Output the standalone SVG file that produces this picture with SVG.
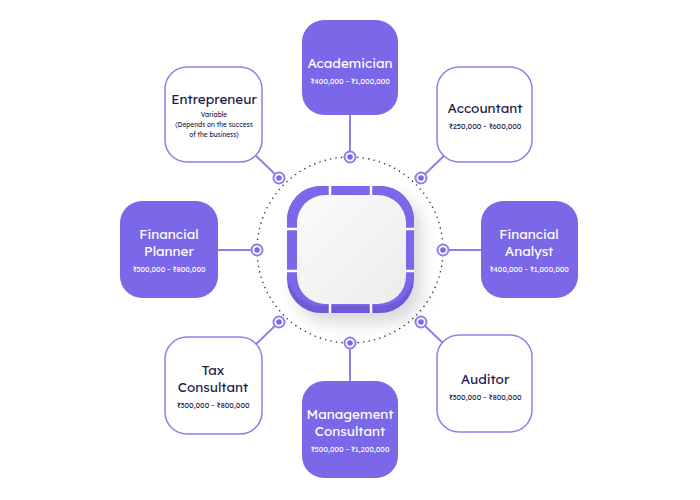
<svg xmlns="http://www.w3.org/2000/svg" width="700" height="500" viewBox="0 0 700 500">
<style>
.f{fill:#7a68e8}
.o{fill:#fff;stroke:#8d80e6;stroke-width:1.5}
.t{font-family:"Lexend","Noto Sans",sans-serif;text-anchor:middle}
.tw{fill:#fff}
.td{fill:#1e1a4a}
.h{font-size:13.5px}
.s{font-size:7.5px}
.ln{stroke:#8d80e6;stroke-width:2}
.dot{fill:#fff;stroke:#8d80e6;stroke-width:2}
.di{fill:#7a68e8}
</style>
<defs>
<filter id="sh" x="-30%" y="-30%" width="170%" height="170%"><feDropShadow dx="8" dy="10" stdDeviation="8" flood-color="#000" flood-opacity="0.15"/></filter>
<linearGradient id="g" x1="0" y1="0" x2="1" y2="1"><stop offset="0" stop-color="#fbfbfb"/><stop offset="1" stop-color="#ececec"/></linearGradient>
</defs>
<g id="connectors">
<circle cx="350" cy="250" r="93" fill="none" stroke="#333" stroke-width="1.6" stroke-dasharray="0 5.5" stroke-linecap="round"/>
<line class="ln" x1="350" y1="115" x2="350" y2="157"/>
<line class="ln" x1="421" y1="178" x2="450" y2="150"/>
<line class="ln" x1="443" y1="250" x2="481" y2="250"/>
<line class="ln" x1="421" y1="322" x2="450" y2="350"/>
<line class="ln" x1="350" y1="343" x2="350" y2="381"/>
<line class="ln" x1="279" y1="322" x2="250" y2="350"/>
<line class="ln" x1="257" y1="250" x2="218" y2="250"/>
<line class="ln" x1="279" y1="178" x2="250" y2="150"/>
<g>
<circle class="dot" cx="350" cy="157" r="5.5"/><circle class="di" cx="350" cy="157" r="2.8"/>
<circle class="dot" cx="421" cy="178" r="5.5"/><circle class="di" cx="421" cy="178" r="2.8"/>
<circle class="dot" cx="443" cy="250" r="5.5"/><circle class="di" cx="443" cy="250" r="2.8"/>
<circle class="dot" cx="421" cy="322" r="5.5"/><circle class="di" cx="421" cy="322" r="2.8"/>
<circle class="dot" cx="350" cy="343" r="5.5"/><circle class="di" cx="350" cy="343" r="2.8"/>
<circle class="dot" cx="279" cy="322" r="5.5"/><circle class="di" cx="279" cy="322" r="2.8"/>
<circle class="dot" cx="257" cy="250" r="5.5"/><circle class="di" cx="257" cy="250" r="2.8"/>
<circle class="dot" cx="279" cy="178" r="5.5"/><circle class="di" cx="279" cy="178" r="2.8"/>
</g>
</g>
<g id="center">
<rect x="287" y="186" width="127" height="127" rx="34" fill="#6c5ad9" filter="url(#sh)"/>
<rect x="287" y="186" width="127" height="120" rx="34" fill="#7a68e8"/>
<g stroke="#fff" stroke-width="2.5">
<line x1="330" y1="186" x2="330" y2="198"/><line x1="371" y1="186" x2="371" y2="198"/>
<line x1="330" y1="300" x2="330" y2="313"/><line x1="371" y1="300" x2="371" y2="313"/>
<line x1="287" y1="229" x2="300" y2="229"/><line x1="287" y1="271" x2="300" y2="271"/>
<line x1="401" y1="229" x2="414" y2="229"/><line x1="401" y1="271" x2="414" y2="271"/>
</g>
<rect x="297" y="195" width="109" height="109" rx="28" fill="url(#g)"/>
</g>
<g id="academician"><rect class="f" x="302" y="20" width="96" height="95" rx="22"/>
<text class="t tw h" x="350" y="68">Academician</text><text class="t tw s" x="350" y="84">₹400,000 - ₹1,000,000</text></g>
<g id="accountant"><rect class="o" x="437" y="67" width="95" height="95" rx="22"/>
<text class="t td h" x="485" y="113">Accountant</text><text class="t td s" x="485" y="129">₹250,000 - ₹600,000</text></g>
<g id="financial-analyst"><rect class="f" x="481" y="201" width="97" height="97" rx="22"/>
<text class="t tw h" x="529" y="239">Financial</text><text class="t tw h" x="529" y="256">Analyst</text><text class="t tw s" x="529" y="272">₹400,000 - ₹1,000,000</text></g>
<g id="auditor"><rect class="o" x="437" y="335" width="95" height="97" rx="22"/>
<text class="t td h" x="485" y="384">Auditor</text><text class="t td s" x="485" y="400">₹300,000 - ₹800,000</text></g>
<g id="management-consultant"><rect class="f" x="302" y="381" width="96" height="97" rx="22"/>
<text class="t tw h" x="350" y="419">Management</text><text class="t tw h" x="350" y="436">Consultant</text><text class="t tw s" x="350" y="452">₹500,000 - ₹1,200,000</text></g>
<g id="tax-consultant"><rect class="o" x="165" y="337" width="97" height="97" rx="22"/>
<text class="t td h" x="213" y="375">Tax</text><text class="t td h" x="213" y="392">Consultant</text><text class="t td s" x="213" y="408">₹300,000 - ₹800,000</text></g>
<g id="financial-planner"><rect class="f" x="120" y="201" width="98" height="97" rx="22"/>
<text class="t tw h" x="169" y="239">Financial</text><text class="t tw h" x="169" y="256">Planner</text><text class="t tw s" x="169" y="272">₹300,000 - ₹800,000</text></g>
<g id="entrepreneur"><rect class="o" x="165" y="67" width="97" height="95" rx="22"/>
<text class="t td h" x="214" y="104">Entrepreneur</text>
<text class="t td" style="font-size:6.5px" x="214" y="117">Variable</text>
<text class="t td" style="font-size:6.5px" x="214" y="127">(Depends on the success</text>
<text class="t td" style="font-size:6.5px" x="214" y="137">of the business)</text></g>
</svg>
